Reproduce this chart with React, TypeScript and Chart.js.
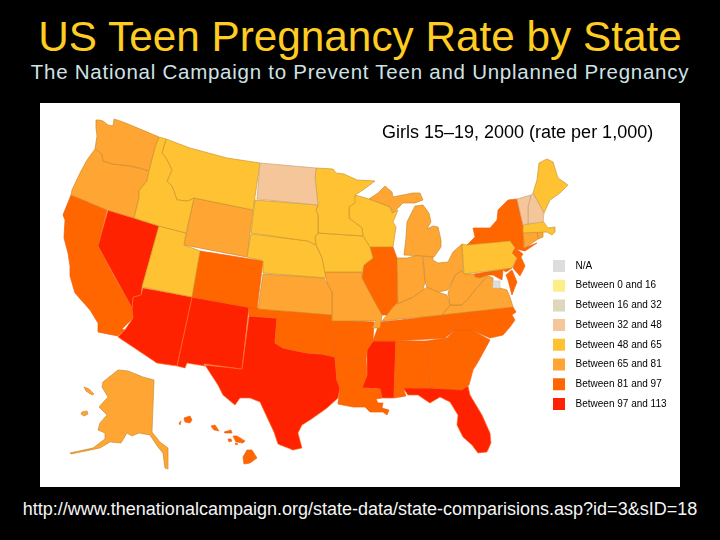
import React, { useEffect, useRef } from "react";
import { Chart, registerables } from "chart.js";

Chart.register(...registerables);

const titleText = "US Teen Pregnancy Rate by State";
const subtitleText = "The National Campaign to Prevent Teen and Unplanned Pregnancy";
const captionText = "Girls 15–19, 2000 (rate per 1,000)";
const sourceText = "http://www.thenationalcampaign.org/state-data/state-comparisions.asp?id=3&sID=18";

const legendLabels = ["N/A", "Between 0 and 16", "Between 16 and 32", "Between 32 and 48", "Between 48 and 65", "Between 65 and 81", "Between 81 and 97", "Between 97 and 113"];
const legendColors = ["#DDDDDD", "#FFEE88", "#DDD8BB", "#F5C699", "#FFC233", "#FFA533", "#FF6600", "#FF2200"];
const borderColors = ["#CCCCCC", "#DDCC66", "#BBB699", "#C9A27A", "#C9932B", "#C98A2B", "#F06010", "#FF6A20"];

// State outlines, in map units
const WA = [[96,120],[99,120],[103,121],[108,125],[113,126],[114,119],[123,122],[140,129],[159,137],[155,148],[149,171],[140,168],[130,166],[113,164],[103,161],[102,154],[97,150],[95,149],[97,136],[96,128]];
const OR = [[95,149],[102,154],[103,161],[113,164],[130,166],[149,171],[147,181],[139,191],[139,198],[134,218],[107,210],[71,195],[72,190],[80,173],[87,160]];
const CA = [[71,195],[107,210],[98,246],[116,280],[132,308],[133,318],[122,329],[125,330],[118,336],[98,332],[98,323],[90,310],[75,293],[70,276],[70,266],[68,253],[64,238],[65,220],[63,215]];
const NV = [[108,210],[159,226],[142,288],[141,295],[133,297],[132,308],[98,246]];
const ID = [[159,137],[166,139],[162,153],[166,158],[172,170],[167,181],[172,186],[177,200],[188,201],[194,198],[186,233],[159,226],[134,218],[139,198],[139,191],[147,181],[149,171],[155,148]];
const MT = [[166,139],[190,148],[227,158],[260,163],[253,210],[194,198],[188,201],[177,200],[172,186],[167,181],[172,170],[166,158],[162,153]];
const WY = [[194,198],[253,210],[247,257],[184,245]];
const UT = [[159,226],[186,233],[184,245],[200,251],[192,297],[142,287]];
const CO = [[200,251],[263,261],[257,309],[192,297]];
const AZ = [[143,288],[192,297],[177,366],[157,363],[118,337],[125,330],[133,318],[132,308],[133,297],[141,295]];
const NM = [[192,297],[249,307],[242,369],[204,364],[205,366],[187,363],[185,368],[177,366]];
const TX = [[249,316],[277,318],[275,343],[283,348],[307,353],[322,354],[335,357],[337,380],[340,388],[338,398],[327,408],[320,413],[310,420],[302,425],[298,433],[302,448],[293,450],[278,444],[274,432],[260,402],[250,398],[240,398],[235,405],[223,395],[218,385],[205,365],[242,369]];
const ND = [[260,163],[316,168],[315,178],[318,205],[257,199]];
const SD = [[255,200],[318,205],[316,210],[318,215],[318,233],[315,237],[316,245],[308,241],[300,240],[251,233]];
const NE = [[251,234],[300,240],[308,241],[316,245],[322,258],[326,278],[263,273],[263,261],[247,257]];
const KS = [[263,274],[324,278],[328,285],[332,292],[332,315],[258,309]];
const OK = [[249,307],[332,315],[332,320],[335,357],[322,354],[307,353],[283,348],[275,343],[277,318],[249,316]];
const MN = [[316,168],[333,169],[336,173],[344,174],[357,180],[375,181],[363,190],[355,195],[355,203],[349,207],[349,218],[362,228],[363,236],[318,233],[318,215],[316,210],[318,205],[315,178]];
const IA = [[318,233],[363,236],[370,247],[373,258],[364,265],[362,272],[324,272],[322,258],[316,245],[315,237]];
const MO = [[324,272],[362,272],[362,278],[372,297],[378,308],[382,315],[380,328],[372,328],[376,321],[332,321],[332,292],[328,285]];
const WI = [[349,207],[355,195],[369,199],[390,207],[392,213],[398,210],[393,222],[396,227],[393,247],[370,247],[363,236],[362,228],[349,218]];
const IL = [[370,247],[393,247],[397,258],[398,302],[393,307],[387,315],[382,315],[378,308],[372,297],[362,278],[364,265],[373,258]];
const IN = [[397,258],[407,258],[422,254],[425,282],[423,290],[413,297],[397,304],[398,302]];
const MIU = [[369,199],[378,193],[385,186],[392,192],[393,197],[413,193],[420,193],[423,200],[415,203],[403,203],[393,213],[390,207]];
const MIL = [[415,206],[423,205],[429,213],[431,222],[427,229],[433,226],[438,227],[441,240],[441,247],[434,257],[423,256],[404,255],[406,238],[407,222]];
const OH = [[423,256],[433,257],[433,260],[438,263],[448,262],[453,252],[462,244],[463,270],[455,275],[448,290],[438,292],[427,287],[425,282]];
const KY = [[423,290],[427,287],[438,292],[447,295],[450,305],[442,315],[400,319],[382,321],[387,315],[393,307],[397,304],[413,297]];
const TN = [[378,327],[380,322],[400,320],[442,315],[475,311],[465,320],[450,328],[445,338],[396,341],[373,341]];
const NC = [[442,315],[513,307],[516,312],[512,315],[515,320],[510,327],[503,335],[490,338],[472,330],[455,330],[445,338],[450,328],[465,320]];
const SC = [[447,338],[455,330],[472,330],[490,340],[478,362],[465,350]];
const GA = [[426,341],[447,338],[465,350],[478,362],[473,370],[469,385],[462,390],[430,388]];
const AL = [[396,341],[426,341],[430,388],[403,388],[406,396],[394,398]];
const FL = [[403,388],[430,388],[462,389],[468,386],[470,395],[482,415],[490,433],[491,443],[487,452],[478,453],[472,445],[463,437],[457,425],[458,415],[450,402],[440,397],[430,403],[418,395],[408,395]];
const MS = [[373,341],[396,341],[394,398],[382,398],[380,389],[362,388],[367,375],[367,350]];
const AR = [[332,320],[374,322],[373,341],[367,350],[366,360],[335,357]];
const LA = [[335,357],[366,360],[367,375],[362,388],[380,389],[382,398],[376,399],[378,403],[383,403],[382,408],[389,410],[387,415],[383,412],[370,412],[365,407],[353,407],[338,404],[340,388],[337,380]];
const PA = [[462,244],[467,245],[510,241],[515,248],[512,253],[517,258],[512,268],[464,274]];
const NY = [[473,228],[490,228],[497,220],[498,210],[508,200],[517,199],[523,225],[524,248],[537,243],[525,251],[516,249],[510,241],[467,245],[475,237]];
const NJ = [[512,253],[515,248],[523,254],[521,257],[525,266],[520,276],[513,268],[517,258]];
const MDW = [[474,274],[512,268],[506,272],[503,270],[502,280],[493,275],[488,275],[480,278],[475,277]];
const MDE = [[512,270],[517,282],[515,287],[512,295],[508,280],[506,275]];
const VA = [[442,315],[450,305],[462,305],[467,300],[475,290],[482,282],[488,276],[493,278],[493,288],[500,288],[507,290],[510,297],[513,307]];
const WV = [[463,270],[464,274],[474,274],[475,277],[480,278],[488,275],[482,282],[475,290],[467,300],[462,305],[450,305],[448,293],[455,275]];
const DC = [[493,281],[500,281],[500,288],[493,288]];
const VT = [[517,199],[531,195],[528,207],[528,224],[523,225]];
const NH = [[531,195],[533,193],[544,213],[543,222],[528,224],[528,207]];
const ME = [[533,193],[537,180],[539,163],[547,159],[553,162],[558,178],[568,185],[560,193],[550,200],[544,213]];
const MA = [[523,225],[543,221],[548,228],[555,227],[555,232],[552,235],[547,232],[523,233]];
const CT = [[523,233],[537,230],[538,239],[525,248]];
const RI = [[537,230],[543,230],[543,237],[538,239]];
const AK = [[118,370],[128,371],[143,377],[154,380],[152,432],[160,442],[168,448],[168,469],[165,468],[163,453],[158,447],[150,435],[139,433],[132,436],[127,433],[121,443],[110,442],[100,448],[71,454],[70,453],[93,448],[105,439],[105,433],[98,430],[100,423],[107,415],[99,407],[108,397],[102,387],[103,382]];
const AK2 = [[84,387],[89,389],[94,394],[92,395],[86,391]];
const AK3 = [[82,412],[87,411],[88,414],[84,416],[81,414]];
const HI1 = [[184,418],[190,416],[192,420],[190,423],[185,422]];
const HI2 = [[179,423],[181,421],[180,425]];
const HI3 = [[211,426],[215,425],[219,431],[214,430]];
const HI4 = [[224,432],[231,430],[232,433],[225,433]];
const HI5 = [[228,439],[231,439],[232,441],[229,442]];
const HI6 = [[233,436],[237,436],[245,441],[243,443],[236,442]];
const HI7 = [[235,443],[238,444],[236,445]];
const HI8 = [[247,450],[252,450],[257,458],[250,463],[244,464],[243,457]];

// index into legendLabels for each rate band
const naShapes = [DC];
const band32to48 = [ND, VT, NH];
const band48to65 = [ID, MT, UT, SD, NE, MN, IA, WI, PA, MA, ME];
const band65to81 = [WA, OR, WY, KS, MO, MIU, MIL, IN, OH, KY, WV, VA, AK, AK2, AK3, CT, RI];
const band81to97 = [CA, CO, OK, AR, LA, TN, AL, GA, SC, NC, IL, NY, NJ, MDW, MDE, HI1, HI2, HI3, HI4, HI5, HI6, HI7, HI8];
const band97to113 = [NV, AZ, NM, TX, MS, FL];
const bandShapes: [number, number[][][]][] = [[0, naShapes], [3, band32to48], [4, band48to65], [5, band65to81], [6, band81to97], [7, band97to113]];

const font = "'Liberation Sans', Arial, sans-serif";
const textStyle = (top: number, size: number, color: string, spacing = 0): React.CSSProperties => ({
  position: "absolute", left: 0, width: 720, top, textAlign: "center", fontFamily: font,
  fontSize: size, lineHeight: "1", color, letterSpacing: spacing, whiteSpace: "nowrap",
});

// The legend sits inside the map panel, right of the states
const placeLegend = {
  id: "placeLegend",
  afterLayout(chart: Chart) {
    const legend: any = chart.legend;
    legend.left = 505.3;
    legend.right = legend.left + legend.width;
    legend.top = 149.3;
    legend.bottom = legend.top + legend.height;
  },
};

export default function App() {
  const ref = useRef<HTMLCanvasElement>(null);
  useEffect(() => {
    document.body.style.margin = "0";
    document.body.style.background = "#000";
    const datasets = bandShapes.flatMap(([band, shapes]) =>
      shapes.map((s) => ({
        label: legendLabels[band],
        data: [...s, s[0]].map(([x, y]) => ({ x, y })),
        showLine: true,
        fill: "shape" as const,
        backgroundColor: legendColors[band],
        borderColor: borderColors[band],
        borderWidth: 0.7,
        pointRadius: 0,
        pointHoverRadius: 0,
        tension: 0.001,
        capBezierPoints: false,
        clip: false as const,
      }))
    );
    const chart = new Chart(ref.current!, {
      type: "scatter",
      data: { datasets },
      plugins: [placeLegend],
      options: {
        responsive: false,
        animation: false,
        scales: {
          x: { type: "linear", display: false, min: 40, max: 680 },
          y: { type: "linear", display: false, reverse: true, min: 103, max: 487 },
        },
        plugins: {
          tooltip: { enabled: false },
          legend: {
            position: "chartArea",
            align: "start",
            labels: {
              boxWidth: 12,
              boxHeight: 12,
              padding: 7.7,
              color: "#000",
              font: { family: font, size: 10 },
              generateLabels: () =>
                legendLabels.map((text, i) => ({
                  text: "  " + text,
                  fillStyle: legendColors[i],
                  strokeStyle: legendColors[i],
                  fontColor: "#000",
                  lineWidth: 0,
                  hidden: false,
                  datasetIndex: 0,
                })),
            },
          },
        },
      },
    });
    return () => chart.destroy();
  }, []);
  return (
    <div style={{ position: "fixed", left: 0, top: 0, width: 720, height: 540, background: "#000", overflow: "hidden" }}>
      <div style={textStyle(16, 42.3, "#FFCC22")}>{titleText}</div>
      <div style={textStyle(62, 20.5, "#CFE3E6", 0.75)}>{subtitleText}</div>
      <canvas ref={ref} width={640} height={384} style={{ position: "absolute", left: 40, top: 103, width: 640, height: 384, background: "#fff" }} />
      <div style={{ ...textStyle(123, 18, "#000"), left: 382, width: 270, textAlign: "left" }}>{captionText}</div>
      <div style={textStyle(500, 18, "#F5F5F5")}>{sourceText}</div>
    </div>
  );
}
